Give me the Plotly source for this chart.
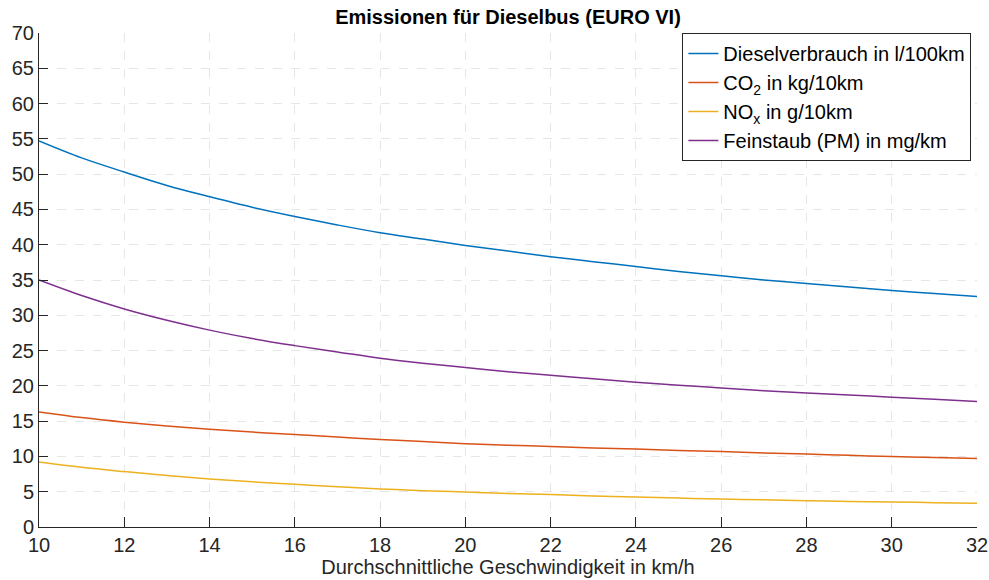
import plotly.graph_objects as go

speed = list(range(10, 33))
diesel = [54.7, 52.3, 50.3, 48.4, 46.8, 45.3, 44.0, 42.8, 41.7, 40.8, 39.9, 39.1,
          38.3, 37.6, 36.9, 36.2, 35.6, 35.0, 34.5, 34.0, 33.5, 33.1, 32.65]
co2 = [16.3, 15.5, 14.85, 14.3, 13.85, 13.45, 13.1, 12.75, 12.4, 12.1, 11.8, 11.6,
       11.4, 11.2, 11.05, 10.85, 10.7, 10.5, 10.35, 10.15, 10.0, 9.85, 9.7]
nox = [9.2, 8.45, 7.85, 7.3, 6.8, 6.4, 6.05, 5.7, 5.4, 5.15, 4.95, 4.75,
       4.6, 4.4, 4.25, 4.1, 3.95, 3.85, 3.73, 3.63, 3.55, 3.45, 3.35]
pm = [35.0, 32.8, 30.9, 29.3, 27.9, 26.7, 25.7, 24.8, 23.9, 23.2, 22.6, 22.0,
      21.5, 21.0, 20.5, 20.1, 19.7, 19.3, 19.0, 18.7, 18.4, 18.1, 17.8]

names = ["Dieselverbrauch in l/100km", "CO<sub>2</sub> in kg/10km",
         "NO<sub>x</sub> in g/10km", "Feinstaub (PM) in mg/km"]
colors = ["#0072BD", "#D95319", "#EDB120", "#7E2F8E"]
x_ticks = list(range(10, 33, 2))
y_ticks = list(range(0, 71, 5))

fig = go.Figure()
for ys, nm, c in zip([diesel, co2, nox, pm], names, colors):
    fig.add_trace(go.Scatter(x=speed, y=ys, mode="lines", name=nm,
                             line=dict(color=c, width=1.5, shape="spline")))

font_family = "Liberation Sans, Arial, sans-serif"
fig.update_layout(
    width=989, height=580,
    margin=dict(l=39, r=12, t=33, b=53),
    paper_bgcolor="white", plot_bgcolor="white",
    font=dict(family=font_family, size=20, color="#262626"),
    title=dict(text="<b>Emissionen für Dieselbus (EURO VI)</b>", x=508 / 989, xanchor="center",
               y=1 - 17 / 580, yanchor="middle", font=dict(size=20, color="#000000")),
    legend=dict(x=0.994, y=1.0, xanchor="right", yanchor="top",
                bordercolor="#262626", borderwidth=1, bgcolor="white",
                font=dict(size=20, color="#000000"), tracegroupgap=0,
                itemwidth=30),
    showlegend=True,
)
fig.update_xaxes(range=[10, 32], tickvals=x_ticks, ticktext=[str(v) for v in x_ticks],
                 showline=True, linecolor="#262626", linewidth=1,
                 ticks="inside", ticklen=10, tickcolor="#262626",
                 showgrid=True, gridcolor="#e6e6e6", griddash="dash", gridwidth=1,
                 zeroline=False, automargin=False,
                 title=dict(text="Durchschnittliche Geschwindigkeit in km/h", standoff=2,
                            font=dict(size=20)))
fig.update_yaxes(range=[0, 70], tickvals=y_ticks, ticktext=[str(v) for v in y_ticks],
                 showline=True, linecolor="#262626", linewidth=1,
                 ticks="inside", ticklen=9, tickcolor="#262626",
                 showgrid=True, gridcolor="#e6e6e6", griddash="dash", gridwidth=1,
                 zeroline=False, automargin=False)

fig.write_html("out.html")
